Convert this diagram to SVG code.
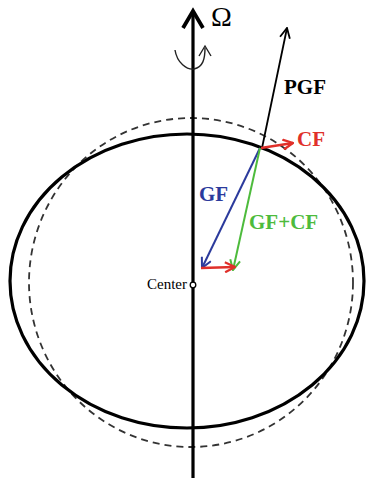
<svg xmlns="http://www.w3.org/2000/svg" width="368" height="480" viewBox="0 0 368 480">
<style>
.lbl{font-family:"Liberation Serif","Times New Roman",serif;font-weight:bold;font-size:21px}
</style>
<defs>
<marker id="hk" viewBox="0 0 12 12" refX="11" refY="6" markerWidth="12" markerHeight="12" markerUnits="userSpaceOnUse" orient="auto"><path d="M1,1 L11,6 L1,11" fill="none" stroke="#000" stroke-width="1.8"/></marker>
<marker id="hb" viewBox="0 0 12 12" refX="11" refY="6" markerWidth="12" markerHeight="12" markerUnits="userSpaceOnUse" orient="auto"><path d="M1,1 L11,6 L1,11" fill="none" stroke="#2b3a9c" stroke-width="2"/></marker>
<marker id="hg" viewBox="0 0 12 12" refX="11" refY="6" markerWidth="12" markerHeight="12" markerUnits="userSpaceOnUse" orient="auto"><path d="M1,1 L11,6 L1,11" fill="none" stroke="#4dbb3c" stroke-width="2"/></marker>
<marker id="hr" viewBox="0 0 12 12" refX="11" refY="6" markerWidth="12" markerHeight="12" markerUnits="userSpaceOnUse" orient="auto"><path d="M1,1 L11,6 L1,11" fill="none" stroke="#e0302a" stroke-width="2.2"/></marker>
</defs>
<rect width="368" height="480" fill="#fff"/>
<g id="sphere">
<ellipse cx="191" cy="282.5" rx="162" ry="164.5" fill="none" stroke="#333" stroke-width="1.8" stroke-dasharray="7,5"/>
</g>
<g id="ellipsoid">
<ellipse cx="187" cy="281" rx="177" ry="147" fill="none" stroke="#000" stroke-width="3.2"/>
</g>
<g id="axis">
<line x1="193" y1="12" x2="193" y2="478" stroke="#000" stroke-width="3.2"/>
<path d="M183,28 L193,11 L203,28" fill="none" stroke="#000" stroke-width="3.8" stroke-linejoin="miter"/>
<text x="211" y="26" font-family="Liberation Serif,'Times New Roman',serif" font-size="28">Ω</text>
<path d="M175,50 C177,63 187,70 194,69 C203,67 205,59 205,48" fill="none" stroke="#222" stroke-width="1.4"/>
<path d="M199,56 L205,46 L211,56" fill="none" stroke="#222" stroke-width="1.4"/>
</g>
<g id="center">
<circle cx="193" cy="285" r="2.8" fill="#fff" stroke="#000" stroke-width="1.3"/>
<text x="147" y="289" font-family="Liberation Serif,'Times New Roman',serif" font-size="15">Center</text>
</g>
<g id="connectors">
<line x1="262" y1="148" x2="287" y2="28" stroke="#000" stroke-width="1.8" marker-end="url(#hk)"/>
<line x1="261" y1="148" x2="293" y2="143" stroke="#e0302a" stroke-width="2.4" marker-end="url(#hr)"/>
<line x1="260" y1="148" x2="202" y2="268" stroke="#2b3a9c" stroke-width="2" marker-end="url(#hb)"/>
<line x1="260" y1="148" x2="233" y2="270" stroke="#4dbb3c" stroke-width="2" marker-end="url(#hg)"/>
<line x1="201" y1="268" x2="235" y2="267" stroke="#e0302a" stroke-width="2.4" marker-end="url(#hr)"/>
</g>
<g id="labels">
<text class="lbl" x="284" y="94" fill="#000">PGF</text>
<text class="lbl" x="297" y="146" fill="#e0302a">CF</text>
<text class="lbl" x="199" y="201" fill="#2b3a9c">GF</text>
<text class="lbl" x="249" y="229" fill="#4dbb3c">GF+CF</text>
</g>
</svg>
